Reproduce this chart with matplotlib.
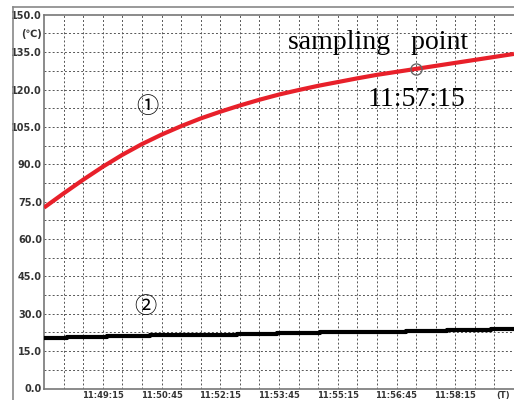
import numpy as np
import matplotlib
matplotlib.use("Agg")
import matplotlib.pyplot as plt
from matplotlib.lines import Line2D

# time in seconds from 11:47:45
t_red = [0, 30, 60, 90, 120, 150, 180, 210, 240, 270, 300, 330, 360,
         390, 420, 450, 480, 510, 540, 570, 600, 630, 660, 690, 720]
temp_red = [72.6, 78.3, 83.8, 89.0, 93.8, 98.1, 101.9, 105.3, 108.4, 111.1,
            113.6, 115.9, 118.0, 119.8, 121.5, 123.0, 124.5, 125.9, 127.1,
            128.3, 129.5, 130.7, 131.9, 133.1, 134.3]

t_black = [0, 35, 97, 163, 229, 296, 357, 423, 489, 554, 618, 684, 720]
temp_black = [20.4, 20.7, 21.0, 21.3, 21.6, 21.9, 22.2, 22.5, 22.8, 23.1,
              23.4, 23.9, 23.9]

sample_t = 570
sample_v = 128.3

xtick_pos = [90, 180, 270, 360, 450, 540, 630]
xtick_labels = ["11:49:15", "11:50:45", "11:52:15", "11:53:45",
                "11:55:15", "11:56:45", "11:58:15"]
ytick_pos = [0, 15, 30, 45, 60, 75, 90, 105, 120, 135, 142.5, 150]
ytick_labels = ["0.0", "15.0", "30.0", "45.0", "60.0", "75.0", "90.0",
                "105.0", "120.0", "135.0", "(\u2103)", "150.0"]

fig = plt.figure(figsize=(5.14, 4.0), dpi=100)
ax = fig.add_axes([44 / 514, 11.5 / 400, 470 / 514, 373.7 / 400])

grid_kw = dict(color="#555555", lw=0.7, ls=(0, (2.0, 2.2)), zorder=1)
for gx in np.arange(30, 720, 30):
    ax.axvline(gx, **grid_kw)
for gy in np.arange(7.5, 150, 7.5):
    ax.axhline(gy, **grid_kw)

ax.plot(t_red, temp_red, color="#e8202a", lw=3.0, zorder=3,
        solid_capstyle="butt")
ax.plot(t_black, temp_black, color="black", lw=3.0, zorder=3,
        drawstyle="steps-post", solid_capstyle="butt")
ax.plot([sample_t], [sample_v], marker="o", ms=8, mfc="none",
        mec="#666666", mew=1.0, zorder=4)

ax.set_xlim(0, 720)
ax.set_ylim(0, 150)
ax.set_xticks(xtick_pos)
ax.set_xticklabels(xtick_labels, fontsize=6, fontweight="bold", color="#333333")
ax.set_yticks(ytick_pos)
ax.set_yticklabels(ytick_labels, fontsize=7, fontweight="bold", color="#333333")
ax.tick_params(length=0, pad=1.5)
for s in ["left", "top", "bottom"]:
    ax.spines[s].set_color("#777777")
    ax.spines[s].set_linewidth(1.2)
ax.spines["right"].set_visible(False)

ax.text(704, -1.0, "(T)", fontsize=6, fontweight="bold", color="#333333",
        ha="center", va="top")

ax.text(374, 136.3, "sampling   point", fontsize=20, family="Liberation Serif",
        va="baseline", ha="left")
ax.text(495, 113.5, "11:57:15", fontsize=20, family="Liberation Serif",
        va="baseline", ha="left")
ax.text(158, 113, "\u2460", fontsize=16, family=["Noto Sans CJK SC", "DejaVu Sans"],
        ha="center", va="center")
ax.text(155, 33.1, "\u2461", fontsize=16, family=["Noto Sans CJK SC", "DejaVu Sans"],
        ha="center", va="center")

# outer frame
fig.add_artist(Line2D([13 / 514, 13 / 514], [0, 1 - 7 / 400], color="#888888", lw=1.2))
fig.add_artist(Line2D([13 / 514, 1], [1 - 7 / 400, 1 - 7 / 400], color="#888888", lw=1.2))

fig.savefig("out.png", dpi=100)
